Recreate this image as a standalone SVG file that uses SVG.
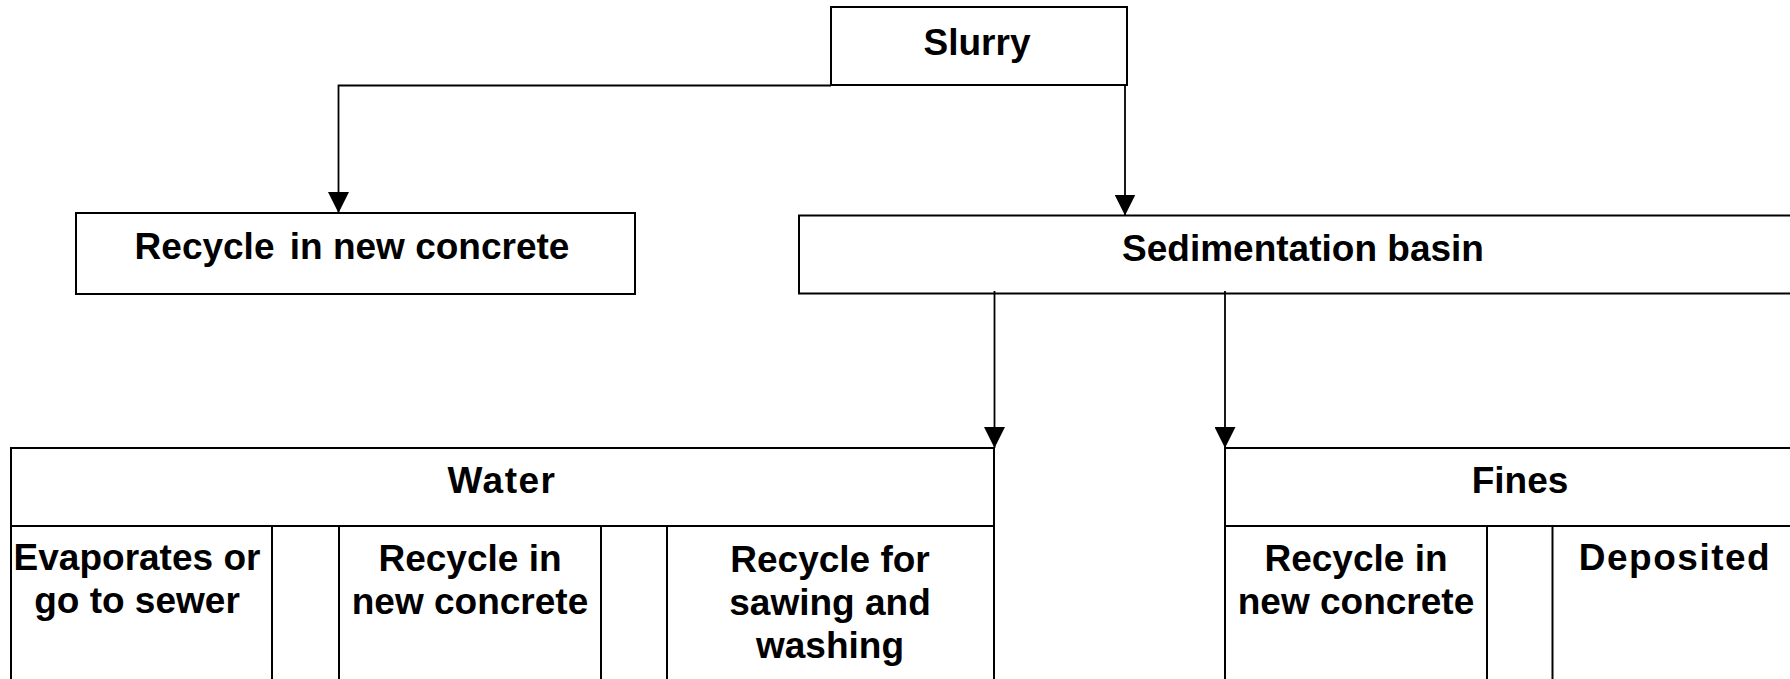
<svg xmlns="http://www.w3.org/2000/svg" width="1790" height="679" viewBox="0 0 1790 679">
<style>
.box{fill:#fff;stroke:#000;stroke-width:2}
.ln{fill:none;stroke:#000;stroke-width:2}
.conn{fill:none;stroke:#000;stroke-width:1.8}
text{font-family:"Liberation Sans",Arial,sans-serif;font-weight:bold;font-size:37px;fill:#000;text-anchor:middle}
.wide{letter-spacing:1.5px}
</style>
<defs>
<marker id="arr" viewBox="0 0 21 21" refX="21" refY="10.5" markerWidth="21" markerHeight="21" markerUnits="userSpaceOnUse" orient="auto">
<path d="M0,0 L21,10.5 L0,21 Z" fill="#000"/>
</marker>
</defs>
<rect width="1790" height="679" fill="#fff"/>
<g id="slurry">
<rect class="box" x="831" y="7" width="296" height="78"/>
<text x="977" y="55">Slurry</text>
</g>
<g id="recycle-left">
<rect class="box" x="76" y="213" width="559" height="81"/>
<text x="352" y="259">Recycle <tspan dx="5">in new concrete</tspan></text>
</g>
<g id="sedimentation">
<rect class="box" x="799" y="215.5" width="1010" height="78"/>
<text x="1303" y="261">Sedimentation basin</text>
</g>
<g id="water">
<rect class="box" x="11" y="448" width="983" height="260"/>
<line class="ln" x1="11" y1="526" x2="994" y2="526"/>
<line class="ln" x1="272" y1="526" x2="272" y2="700"/>
<line class="ln" x1="339" y1="526" x2="339" y2="700"/>
<line class="ln" x1="601" y1="526" x2="601" y2="700"/>
<line class="ln" x1="667" y1="526" x2="667" y2="700"/>
<text class="wide" x="502" y="493">Water</text>
<text x="137" y="570">Evaporates or</text>
<text x="137" y="613">go to sewer</text>
<text x="470" y="571">Recycle in</text>
<text x="470" y="614">new concrete</text>
<text x="830" y="572">Recycle for</text>
<text x="830" y="615">sawing and</text>
<text x="830" y="658">washing</text>
</g>
<g id="fines">
<rect class="box" x="1225" y="448" width="584" height="260"/>
<line class="ln" x1="1225" y1="526" x2="1809" y2="526"/>
<line class="ln" x1="1487" y1="526" x2="1487" y2="700"/>
<line class="ln" x1="1552.5" y1="526" x2="1552.5" y2="700"/>
<text x="1520" y="493">Fines</text>
<text x="1356" y="571">Recycle in</text>
<text x="1356" y="614">new concrete</text>
<text class="wide" x="1675" y="570">Deposited</text>
</g>
<g id="connectors">
<path class="conn" d="M831,85.5 H338.5 V213" marker-end="url(#arr)"/>
<path class="conn" d="M1125,85 V215.5" marker-end="url(#arr)"/>
<path class="conn" d="M994.5,291 V448" marker-end="url(#arr)"/>
<path class="conn" d="M1225,291 V448" marker-end="url(#arr)"/>
</g>
</svg>
